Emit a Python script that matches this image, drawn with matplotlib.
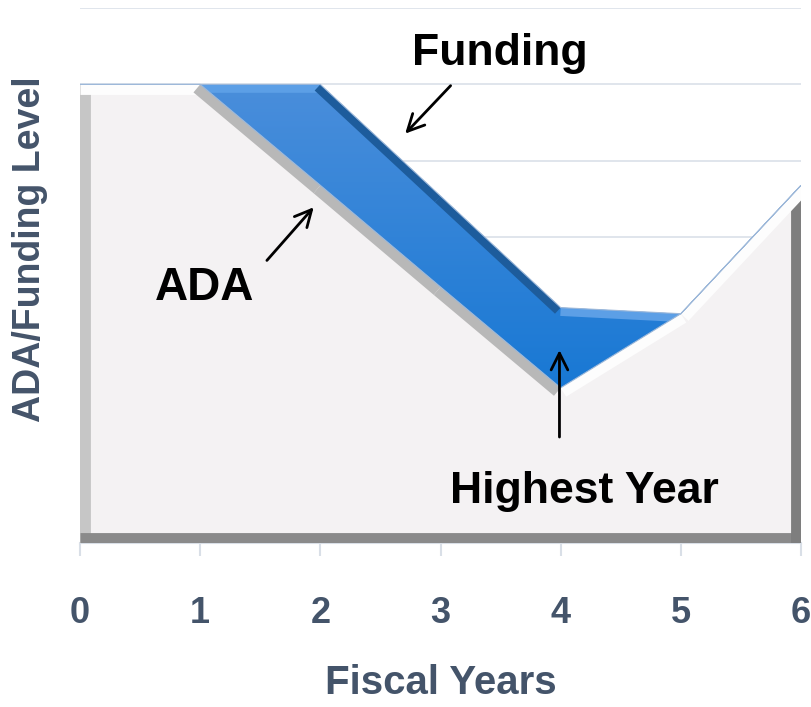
import numpy as np
import matplotlib
matplotlib.use("Agg")
import matplotlib.pyplot as plt
from matplotlib.patches import Polygon

# data
years = [0, 1, 2, 3, 4, 5, 6]
ada = [6.0, 6.0, 4.68, 3.35, 2.03, 3.0, 4.68]
funding = [6.0, 6.0, 6.0, 4.54, 3.08, 3.0, 4.68]
x_ticks = [0, 1, 2, 3, 4, 5, 6]

plt.rcParams["font.family"] = ["Liberation Sans", "DejaVu Sans"]

AXIS_COLOR = "#44546a"

fig = plt.figure(figsize=(8.11, 7.07), dpi=100)
ax = fig.add_axes([80 / 811, 164 / 707, 721 / 811, 535 / 707])
ax.set_xlim(0, 6)
ax.set_ylim(0, 7)

# gridlines
for g in range(1, 8):
    ax.axhline(g, color="#dde3ea", lw=1.3, zorder=0)

# ── ADA area with bevel-like edge bands ─────────────────────
ada_pts = [(years[0], 0)] + list(zip(years, ada)) + [(years[-1], 0)]
ada_patch = Polygon(ada_pts, closed=True, facecolor="#f4f2f3", edgecolor="none", zorder=2)
ax.add_patch(ada_patch)


def band(xs, ys, color, lw, clip, z):
    # line centred on the polygon edge, clipped so only the inner half shows
    ln, = ax.plot(xs, ys, color=color, lw=lw, solid_capstyle="butt", zorder=z)
    ln.set_clip_path(clip)
    return ln


bw = 15
band([0, 0], [0, ada[0]], "#c6c6c6", bw, ada_patch, 3)
band([0, 6], [0, 0], "#8a8a8a", bw, ada_patch, 3)
band([6, 6], [0, ada[-1]], "#7e7e7e", bw, ada_patch, 3)
for i in range(len(years) - 1):
    x0, x1 = years[i], years[i + 1]
    y0, y1 = ada[i], ada[i + 1]
    col = "#b8b8b8" if y1 < y0 else "#fdfdfd"
    band([x0, x1], [y0, y1], col, bw, ada_patch, 3.5)

# ── Funding area (gradient blue) ───────────────────────────
fund_pts = list(zip(years, funding)) + list(zip(years[::-1], ada[::-1]))
fund_patch = Polygon(fund_pts, closed=True, facecolor="none", edgecolor="#9db8d9", lw=0.8, zorder=4)
ax.add_patch(fund_patch)
grad = np.linspace(0, 1, 256).reshape(-1, 1)
cmap = matplotlib.colors.LinearSegmentedColormap.from_list("b", ["#1878d4", "#4a8edb"])
im = ax.imshow(grad, extent=[0, 6, 2, 6], origin="lower", cmap=cmap, aspect="auto", zorder=3.8)
im.set_clip_path(fund_patch)
ax.set_xlim(0, 6)
ax.set_ylim(0, 7)

bw2 = 12
for i in range(len(years) - 1):
    x0, x1 = years[i], years[i + 1]
    y0, y1 = funding[i], funding[i + 1]
    if abs(y1 - y0) < 0.2:
        col = "#5c9fe6"
    elif y1 < y0:
        col = "#1d5c9c"
    else:
        continue
    band([x0, x1], [y0, y1], col, bw2, fund_patch, 3.9)

# ── axes styling ───────────────────────────────────────────
for s in ["top", "right", "left"]:
    ax.spines[s].set_visible(False)
ax.spines["bottom"].set_color("#d9dfe7")
ax.spines["bottom"].set_linewidth(1.5)
ax.set_yticks([])
ax.set_xticks(x_ticks)
ax.set_xticklabels([str(t) for t in x_ticks])
ax.tick_params(axis="x", length=9, width=1.5, color="#d9dfe7", pad=29,
               labelsize=26, labelcolor=AXIS_COLOR)
for lbl in ax.get_xticklabels():
    lbl.set_fontweight("bold")

ax.set_xlabel("Fiscal Years", fontsize=29, fontweight="bold", color=AXIS_COLOR)
ax.xaxis.set_label_coords(0.5, (543 - 664) / 535)
ax.set_ylabel("ADA/Funding Level", fontsize=27, fontweight="bold", color=AXIS_COLOR)
ax.yaxis.set_label_coords((48 - 80) / 721, 0.55)

# ── annotations ────────────────────────────────────────────
arrow = dict(arrowstyle="->", color="black", lw=2, mutation_scale=30)
ax.annotate("", xy=(2.69, 5.33), xytext=(3.10, 6.01), arrowprops=arrow, zorder=6,
            annotation_clip=False)
ax.text(3.49, 6.25, "Funding", fontsize=32, fontweight="bold", ha="center", va="baseline",
        zorder=6, clip_on=False)
ax.annotate("", xy=(1.96, 4.42), xytext=(1.54, 3.67), arrowprops=arrow, zorder=6)
ax.text(1.04, 3.18, "ADA", fontsize=33, fontweight="bold", ha="center", va="baseline", zorder=6)
ax.annotate("", xy=(3.99, 2.56), xytext=(3.99, 1.35), arrowprops=arrow, zorder=6)
ax.text(4.20, 0.52, "Highest Year", fontsize=32, fontweight="bold", ha="center", va="baseline",
        zorder=6)

fig.savefig("out.png", dpi=100)
